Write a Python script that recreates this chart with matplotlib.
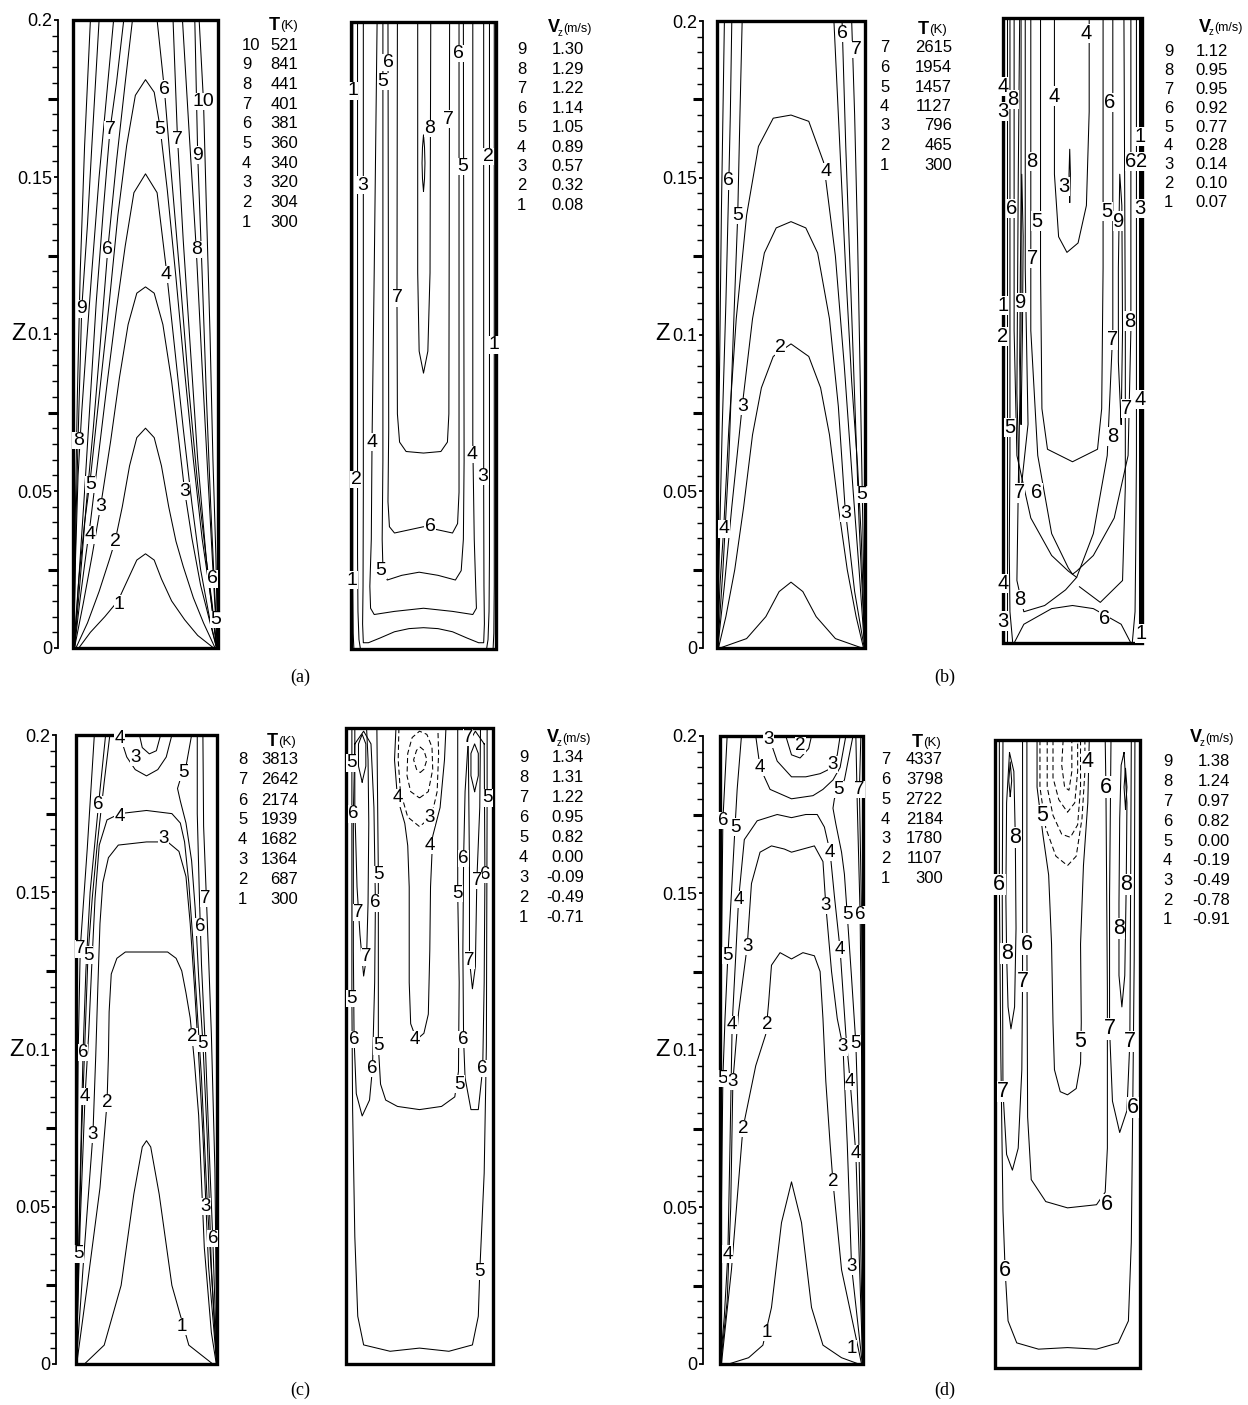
import matplotlib
matplotlib.use('Agg')
import matplotlib.pyplot as plt
from matplotlib.patches import Rectangle
from matplotlib.ticker import FixedLocator
import matplotlib.font_manager as fm

W, H = 1248, 1405
fig = plt.figure(figsize=(W / 100, H / 100), dpi=100)
_names = {f.name for f in fm.fontManager.ttflist}
NARROW = 'Liberation Sans Narrow' if 'Liberation Sans Narrow' in _names else 'Liberation Sans'
SANS = 'Liberation Sans'
SERIF = 'Liberation Serif'

# ---------------- axis ticks ----------------
Z_TICKS = [0, 0.05, 0.1, 0.15, 0.2]
Z_TICKLABELS = ['0', '0.05', '0.1', '0.15', '0.2']
Z_MINOR = [0.005, 0.01, 0.015, 0.02, 0.03, 0.035, 0.04, 0.045, 0.055, 0.06, 0.065, 0.07,
           0.08, 0.085, 0.09, 0.095, 0.105, 0.11, 0.115, 0.12, 0.13, 0.135, 0.14, 0.145,
           0.155, 0.16, 0.165, 0.17, 0.18, 0.185, 0.19, 0.195]
Z_MID = [0.025, 0.075, 0.125, 0.175]

# ---------------- legends ----------------
A_T_IDX = ['10', '9', '8', '7', '6', '5', '4', '3', '2', '1']
A_T_VAL = ['521', '841', '441', '401', '381', '360', '340', '320', '304', '300']
A_V_IDX = ['9', '8', '7', '6', '5', '4', '3', '2', '1']
A_V_VAL = ['1.30', '1.29', '1.22', '1.14', '1.05', '0.89', '0.57', '0.32', '0.08']
B_T_IDX = ['7', '6', '5', '4', '3', '2', '1']
B_T_VAL = ['2615', '1954', '1457', '1127', '796', '465', '300']
B_V_IDX = ['9', '8', '7', '6', '5', '4', '3', '2', '1']
B_V_VAL = ['1.12', '0.95', '0.95', '0.92', '0.77', '0.28', '0.14', '0.10', '0.07']
C_T_IDX = ['8', '7', '6', '5', '4', '3', '2', '1']
C_T_VAL = ['3813', '2642', '2174', '1939', '1682', '1364', '687', '300']
C_V_IDX = ['9', '8', '7', '6', '5', '4', '3', '2', '1']
C_V_VAL = ['1.34', '1.31', '1.22', '0.95', '0.82', '0.00', '-0.09', '-0.49', '-0.71']
D_T_IDX = ['7', '6', '5', '4', '3', '2', '1']
D_T_VAL = ['4337', '3798', '2722', '2184', '1780', '1107', '300']
D_V_IDX = ['9', '8', '7', '6', '5', '4', '3', '2', '1']
D_V_VAL = ['1.38', '1.24', '0.97', '0.82', '0.00', '-0.19', '-0.49', '-0.78', '-0.91']

# ---------------- contour lines (x = r/width, z in m) ----------------
A_T_LINES = [
    (1, [(0.04, 0), (0.12, 0.005), (0.22, 0.010), (0.31, 0.015), (0.38, 0.022), (0.44, 0.028), (0.50, 0.030),
         (0.56, 0.028), (0.61, 0.022), (0.68, 0.015), (0.77, 0.009), (0.86, 0.004), (0.97, 0)]),
    (2, [(0.02, 0), (0.10, 0.008), (0.18, 0.018), (0.25, 0.028), (0.29, 0.034), (0.34, 0.045), (0.39, 0.058),
         (0.44, 0.067), (0.50, 0.070), (0.56, 0.067), (0.61, 0.058), (0.66, 0.045), (0.71, 0.034),
         (0.76, 0.026), (0.83, 0.016), (0.90, 0.008), (0.98, 0)]),
    (3, [(0.01, 0), (0.07, 0.014), (0.13, 0.029), (0.19, 0.045), (0.26, 0.066), (0.32, 0.086), (0.38, 0.103),
         (0.44, 0.113), (0.50, 0.115), (0.56, 0.113), (0.62, 0.103), (0.68, 0.085), (0.73, 0.066),
         (0.77, 0.050), (0.82, 0.035), (0.88, 0.020), (0.99, 0)]),
    (4, [(0.01, 0), (0.05, 0.016), (0.09, 0.030), (0.12, 0.040), (0.18, 0.063), (0.24, 0.086), (0.30, 0.108),
         (0.36, 0.128), (0.42, 0.145), (0.50, 0.151), (0.58, 0.145), (0.64, 0.122), (0.70, 0.096),
         (0.76, 0.070), (0.82, 0.046), (0.88, 0.025), (0.94, 0.010), (0.99, 0)]),
    (5, [(0.005, 0), (0.04, 0.022), (0.08, 0.040), (0.12, 0.054), (0.18, 0.080), (0.25, 0.110), (0.31, 0.138),
         (0.37, 0.160), (0.43, 0.176), (0.50, 0.181), (0.56, 0.177), (0.60, 0.166), (0.65, 0.146),
         (0.71, 0.118), (0.77, 0.088), (0.83, 0.060), (0.89, 0.035), (0.95, 0.016), (0.995, 0)]),
    (6, [(0.41, 0.2), (0.36, 0.18), (0.30, 0.155), (0.24, 0.127), (0.19, 0.098), (0.14, 0.070), (0.09, 0.045),
         (0.05, 0.022), (0.01, 0)]),
    (6, [(0.58, 0.2), (0.63, 0.178), (0.68, 0.150), (0.74, 0.117), (0.80, 0.082), (0.86, 0.052),
         (0.92, 0.028), (0.96, 0.014), (0.99, 0)]),
    (7, [(0.35, 0.2), (0.30, 0.18), (0.255, 0.165), (0.21, 0.14), (0.16, 0.11), (0.12, 0.08), (0.08, 0.05),
         (0.04, 0.022), (0.01, 0)]),
    (7, [(0.69, 0.2), (0.72, 0.163), (0.76, 0.13), (0.81, 0.095), (0.86, 0.06), (0.92, 0.028), (0.99, 0)]),
    (8, [(0.28, 0.2), (0.23, 0.175), (0.18, 0.15), (0.13, 0.12), (0.09, 0.095), (0.06, 0.075), (0.035, 0.055),
         (0.015, 0.025), (0.005, 0)]),
    (8, [(0.755, 0.2), (0.80, 0.165), (0.85, 0.127), (0.89, 0.09), (0.93, 0.055), (0.965, 0.025), (0.995, 0)]),
    (9, [(0.18, 0.2), (0.13, 0.16), (0.10, 0.135), (0.06, 0.108), (0.04, 0.075), (0.02, 0.04), (0.005, 0)]),
    (9, [(0.84, 0.2), (0.86, 0.157), (0.89, 0.12), (0.92, 0.08), (0.95, 0.045), (0.98, 0.015), (0.998, 0)]),
    (10, [(0.12, 0.2), (0.08, 0.16), (0.05, 0.12), (0.03, 0.08), (0.015, 0.04), (0.003, 0)]),
    (10, [(0.87, 0.2), (0.90, 0.174), (0.92, 0.14), (0.945, 0.10), (0.965, 0.06), (0.985, 0.03), (0.998, 0)]),
]
A_T_LABELS = [('6', 0.63, 0.178), ('7', 0.255, 0.165), ('5', 0.60, 0.165), ('7', 0.72, 0.162),
              ('10', 0.90, 0.174), ('9', 0.86, 0.157), ('8', 0.85, 0.127), ('6', 0.24, 0.127),
              ('4', 0.64, 0.119), ('9', 0.06, 0.108), ('8', 0.035, 0.066), ('5', 0.12, 0.052),
              ('3', 0.19, 0.045), ('4', 0.12, 0.036), ('2', 0.29, 0.034), ('3', 0.77, 0.050),
              ('6', 0.96, 0.022), ('5', 0.985, 0.009), ('1', 0.32, 0.014)]

A_V_LINES = [
    (1, [(0.012, 0.2), (0.012, 0.02), (0.015, 0.005), (0.02, 0)]),
    (1, [(0.988, 0.2), (0.988, 0.02), (0.985, 0.005), (0.98, 0)]),
    (2, [(0.045, 0.2), (0.045, 0.03), (0.048, 0.012), (0.055, 0.003), (0.065, 0)]),
    (2, [(0.955, 0.2), (0.955, 0.03), (0.952, 0.012), (0.945, 0.003), (0.935, 0)]),
    (3, [(0.085, 0.2), (0.085, 0.05), (0.083, 0.02), (0.08, 0.008), (0.085, 0.002), (0.12, 0.002), (0.2, 0.0035),
         (0.3, 0.0055), (0.4, 0.0065), (0.5, 0.0068), (0.6, 0.0065), (0.7, 0.0055), (0.8, 0.0035),
         (0.88, 0.002), (0.915, 0.002), (0.92, 0.008), (0.917, 0.02), (0.915, 0.05), (0.915, 0.2)]),
    (4, [(0.18, 0.2), (0.16, 0.12), (0.145, 0.066), (0.14, 0.035), (0.13, 0.02), (0.135, 0.013), (0.16, 0.011),
         (0.3, 0.012), (0.5, 0.013), (0.7, 0.012), (0.84, 0.011), (0.865, 0.013), (0.86, 0.02),
         (0.85, 0.035), (0.84, 0.066), (0.84, 0.2)]),
    (5, [(0.22, 0.2), (0.22, 0.06), (0.215, 0.035), (0.22, 0.026), (0.25, 0.022), (0.35, 0.0235), (0.47, 0.0245),
         (0.6, 0.0235), (0.72, 0.022), (0.76, 0.025), (0.775, 0.035), (0.78, 0.06), (0.775, 0.2)]),
    (6, [(0.255, 0.2), (0.26, 0.07), (0.255, 0.047), (0.265, 0.039), (0.3, 0.037), (0.4, 0.038), (0.5, 0.039),
         (0.6, 0.038), (0.7, 0.037), (0.735, 0.040), (0.745, 0.05), (0.745, 0.2)]),
    (7, [(0.32, 0.2), (0.317, 0.112), (0.32, 0.075), (0.335, 0.066), (0.38, 0.063), (0.5, 0.0625),
         (0.62, 0.063), (0.665, 0.066), (0.675, 0.075), (0.68, 0.2)]),
    (8, [(0.46, 0.2), (0.46, 0.12), (0.47, 0.095), (0.5, 0.088), (0.53, 0.095), (0.545, 0.12), (0.55, 0.2)]),
    (9, [(0.50, 0.146), (0.507, 0.150), (0.51, 0.155), (0.507, 0.160), (0.50, 0.164), (0.493, 0.160),
         (0.49, 0.155), (0.493, 0.150), (0.50, 0.146)]),
]
A_V_LABELS = [('1', 0.01, 0.178), ('6', 0.255, 0.187), ('5', 0.22, 0.181), ('8', 0.545, 0.166),
              ('7', 0.675, 0.169), ('6', 0.74, 0.19), ('3', 0.083, 0.148), ('5', 0.77, 0.154),
              ('2', 0.945, 0.157), ('7', 0.317, 0.112), ('1', 0.985, 0.097), ('4', 0.145, 0.066),
              ('2', 0.035, 0.054), ('4', 0.835, 0.062), ('3', 0.91, 0.055), ('6', 0.545, 0.039),
              ('5', 0.207, 0.025), ('1', 0.007, 0.022)]

B_T_LINES = [
    (1, [(0.02, 0), (0.20, 0.003), (0.33, 0.010), (0.42, 0.018), (0.50, 0.021), (0.58, 0.018), (0.67, 0.010),
         (0.80, 0.003), (0.98, 0)]),
    (2, [(0.01, 0), (0.06, 0.010), (0.12, 0.025), (0.18, 0.045), (0.24, 0.068), (0.30, 0.083), (0.38, 0.093),
         (0.50, 0.097), (0.62, 0.093), (0.70, 0.083), (0.76, 0.068), (0.82, 0.045), (0.88, 0.025),
         (0.94, 0.010), (0.99, 0)]),
    (3, [(0.005, 0), (0.05, 0.02), (0.10, 0.045), (0.17, 0.077), (0.24, 0.105), (0.32, 0.126), (0.40, 0.134),
         (0.50, 0.136), (0.60, 0.134), (0.68, 0.126), (0.76, 0.105), (0.82, 0.077), (0.865, 0.045),
         (0.93, 0.018), (0.995, 0)]),
    (4, [(0.003, 0), (0.02, 0.02), (0.045, 0.038), (0.08, 0.07), (0.13, 0.105), (0.20, 0.138), (0.28, 0.160),
         (0.38, 0.169), (0.50, 0.170), (0.62, 0.168), (0.72, 0.155), (0.80, 0.125), (0.86, 0.09),
         (0.92, 0.05), (0.96, 0.025), (0.997, 0)]),
    (5, [(0.17, 0.2), (0.155, 0.17), (0.14, 0.138), (0.11, 0.10), (0.08, 0.06), (0.04, 0.025), (0.005, 0)]),
    (5, [(0.79, 0.2), (0.83, 0.16), (0.87, 0.12), (0.91, 0.085), (0.95, 0.058), (0.975, 0.035), (0.998, 0)]),
    (6, [(0.10, 0.2), (0.09, 0.17), (0.08, 0.149), (0.06, 0.11), (0.035, 0.07), (0.015, 0.03), (0.002, 0)]),
    (6, [(0.845, 0.2), (0.87, 0.16), (0.90, 0.12), (0.93, 0.08), (0.96, 0.04), (0.999, 0)]),
    (7, [(0.91, 0.2), (0.93, 0.17), (0.95, 0.13), (0.97, 0.08), (0.985, 0.04), (0.999, 0)]),
    (7, [(0.05, 0.2), (0.03, 0.14), (0.015, 0.08), (0.002, 0)]),
]
B_T_LABELS = [('6', 0.85, 0.196), ('7', 0.945, 0.191), ('4', 0.735, 0.152), ('6', 0.08, 0.149),
              ('5', 0.14, 0.138), ('2', 0.43, 0.096), ('3', 0.175, 0.077), ('5', 0.98, 0.049),
              ('3', 0.87, 0.043), ('4', 0.047, 0.038)]

B_V_LINES = [
    (1, [(0.01, 0.2), (0.01, 0.0)]),
    (1, [(0.99, 0.2), (0.99, 0.0)]),
    (2, [(0.03, 0.2), (0.03, 0.0)]),
    (2, [(0.975, 0.2), (0.975, 0.0)]),
    (3, [(0.005, 0.2), (0.005, 0.0)]),
    (3, [(0.985, 0.2), (0.985, 0.0)]),
    (3, [(0.48, 0.141), (0.485, 0.15), (0.48, 0.158), (0.475, 0.15), (0.48, 0.141)]),
    (4, [(0.37, 0.2), (0.37, 0.15), (0.40, 0.13), (0.46, 0.125), (0.54, 0.128), (0.60, 0.14), (0.62, 0.17),
         (0.62, 0.2)]),
    (4, [(0.05, 0.2), (0.05, 0.06), (0.045, 0.03), (0.05, 0.01), (0.07, 0)]),
    (4, [(0.96, 0.2), (0.96, 0.06), (0.955, 0.03), (0.95, 0.01), (0.93, 0)]),
    (5, [(0.27, 0.2), (0.27, 0.12), (0.28, 0.075), (0.32, 0.062), (0.5, 0.058), (0.68, 0.062), (0.71, 0.075),
         (0.72, 0.12), (0.72, 0.2)]),
    (6, [(0.08, 0.2), (0.08, 0.10), (0.10, 0.06), (0.20, 0.04), (0.35, 0.028), (0.47, 0.023), (0.5, 0.022),
         (0.53, 0.023), (0.65, 0.028), (0.80, 0.04), (0.90, 0.06), (0.92, 0.10), (0.92, 0.2)]),
    (6, [(0.08, 0.0), (0.15, 0.006), (0.35, 0.011), (0.5, 0.012), (0.65, 0.011), (0.85, 0.006), (0.92, 0.0)]),
    (8, [(0.20, 0.2), (0.20, 0.10), (0.25, 0.06), (0.35, 0.035), (0.47, 0.024), (0.5, 0.022), (0.53, 0.021),
         (0.45, 0.017), (0.3, 0.012), (0.15, 0.01), (0.10, 0.02), (0.11, 0.05), (0.13, 0.1), (0.13, 0.2)]),
    (7, [(0.16, 0.2), (0.16, 0.12), (0.18, 0.07), (0.12, 0.045), (0.10, 0.08), (0.11, 0.15), (0.12, 0.2)]),
    (9, [(0.13, 0.07), (0.14, 0.10), (0.145, 0.13), (0.135, 0.15), (0.125, 0.12), (0.12, 0.09), (0.13, 0.07)]),
    (9, [(0.85, 0.07), (0.86, 0.10), (0.855, 0.14), (0.84, 0.15), (0.83, 0.12), (0.83, 0.09), (0.85, 0.07)]),
    (8, [(0.79, 0.2), (0.79, 0.10), (0.75, 0.06), (0.65, 0.035), (0.53, 0.021)]),
    (8, [(0.87, 0.2), (0.88, 0.10), (0.88, 0.05), (0.86, 0.02), (0.70, 0.013), (0.55, 0.018)]),
]
B_V_LABELS = [('4', 0.60, 0.195), ('4', 0.0, 0.178), ('8', 0.07, 0.174), ('4', 0.37, 0.175),
              ('6', 0.77, 0.173), ('3', 0.0, 0.170), ('1', 0.985, 0.162), ('8', 0.21, 0.154),
              ('6', 0.92, 0.154), ('2', 0.995, 0.154), ('3', 0.44, 0.146), ('6', 0.06, 0.139),
              ('5', 0.245, 0.135), ('5', 0.75, 0.138), ('9', 0.83, 0.135), ('3', 0.985, 0.139),
              ('7', 0.21, 0.123), ('9', 0.13, 0.109), ('1', 0.0, 0.108), ('2', 0.0, 0.098),
              ('8', 0.91, 0.103), ('7', 0.785, 0.097), ('4', 0.985, 0.078), ('7', 0.89, 0.075),
              ('5', 0.05, 0.069), ('8', 0.79, 0.066), ('7', 0.12, 0.048), ('6', 0.245, 0.048),
              ('4', 0.0, 0.019), ('8', 0.12, 0.014), ('3', 0.0, 0.007), ('6', 0.73, 0.008),
              ('1', 0.99, 0.003)]

C_T_LINES = [
    (1, [(0.06, 0), (0.2, 0.006), (0.32, 0.025), (0.41, 0.054), (0.47, 0.069), (0.5, 0.071), (0.53, 0.069),
         (0.59, 0.054), (0.68, 0.025), (0.80, 0.006), (0.97, 0)]),
    (2, [(0.005, 0), (0.08, 0.025), (0.17, 0.056), (0.22, 0.083), (0.23, 0.098), (0.235, 0.112), (0.25, 0.124),
         (0.29, 0.129), (0.35, 0.131), (0.5, 0.131), (0.65, 0.131), (0.71, 0.129), (0.75, 0.125),
         (0.78, 0.118), (0.81, 0.110), (0.84, 0.096), (0.87, 0.079), (0.91, 0.037), (0.96, 0.010), (0.995, 0)]),
    (3, [(0.002, 0), (0.06, 0.037), (0.12, 0.073), (0.14, 0.098), (0.155, 0.120), (0.17, 0.140), (0.19, 0.153),
         (0.23, 0.161), (0.30, 0.165), (0.5, 0.166), (0.65, 0.166), (0.73, 0.163), (0.78, 0.155),
         (0.81, 0.140), (0.84, 0.120), (0.87, 0.098), (0.90, 0.073), (0.94, 0.031), (0.998, 0)]),
    (4, [(0.001, 0), (0.03, 0.045), (0.064, 0.085), (0.09, 0.105), (0.11, 0.125), (0.135, 0.148),
         (0.165, 0.165), (0.22, 0.173), (0.31, 0.175), (0.5, 0.176), (0.68, 0.175), (0.74, 0.172),
         (0.77, 0.166), (0.80, 0.153), (0.83, 0.134), (0.86, 0.112), (0.89, 0.091), (0.93, 0.052), (0.999, 0)]),
    (4, [(0.31, 0.2), (0.36, 0.193), (0.42, 0.189), (0.5, 0.187), (0.58, 0.189), (0.64, 0.193), (0.68, 0.2)]),
    (3, [(0.45, 0.2), (0.47, 0.196), (0.52, 0.194), (0.57, 0.195), (0.60, 0.2)]),
    (5, [(0.24, 0.2), (0.20, 0.185), (0.15, 0.165), (0.115, 0.148), (0.085, 0.130), (0.065, 0.105),
         (0.04, 0.073), (0.02, 0.035), (0.003, 0)]),
    (5, [(0.82, 0.2), (0.78, 0.190), (0.74, 0.186), (0.72, 0.183), (0.74, 0.179), (0.78, 0.172), (0.82, 0.160),
         (0.845, 0.145), (0.87, 0.123), (0.90, 0.102), (0.93, 0.073), (0.96, 0.031), (0.998, 0)]),
    (6, [(0.21, 0.2), (0.16, 0.178), (0.10, 0.150), (0.07, 0.125), (0.05, 0.099), (0.03, 0.06), (0.01, 0.02),
         (0.001, 0)]),
    (6, [(0.86, 0.2), (0.86, 0.175), (0.875, 0.149), (0.89, 0.127), (0.92, 0.098), (0.95, 0.062),
         (0.97, 0.040), (0.999, 0)]),
    (7, [(0.13, 0.2), (0.08, 0.164), (0.03, 0.132), (0.015, 0.098), (0.005, 0.042), (0.001, 0)]),
    (7, [(0.90, 0.2), (0.905, 0.171), (0.93, 0.142), (0.96, 0.105), (0.985, 0.062), (1.0, 0)]),
]
C_T_LABELS = [('4', 0.31, 0.199), ('3', 0.42, 0.193), ('6', 0.16, 0.178), ('5', 0.76, 0.188),
              ('4', 0.31, 0.174), ('3', 0.62, 0.167), ('7', 0.92, 0.148), ('6', 0.88, 0.139),
              ('7', 0.03, 0.132), ('5', 0.085, 0.130), ('6', 0.05, 0.099), ('5', 0.90, 0.102),
              ('4', 0.064, 0.085), ('2', 0.22, 0.083), ('3', 0.12, 0.073), ('3', 0.92, 0.050),
              ('6', 0.97, 0.040), ('5', 0.02, 0.035), ('2', 0.825, 0.104), ('1', 0.75, 0.012)]

C_V_LINES = [
    (1, [(0.505, 0.186), (0.53, 0.187), (0.55, 0.190), (0.53, 0.193), (0.505, 0.194), (0.48, 0.193),
         (0.46, 0.190), (0.48, 0.187), (0.505, 0.186)]),
    (2, [(0.50, 0.178), (0.56, 0.180), (0.59, 0.187), (0.585, 0.194), (0.55, 0.198), (0.50, 0.199),
         (0.45, 0.197), (0.42, 0.192), (0.415, 0.185), (0.44, 0.180), (0.50, 0.178)]),
    (3, [(0.36, 0.2), (0.355, 0.19), (0.37, 0.18), (0.42, 0.172), (0.5, 0.169), (0.58, 0.172), (0.62, 0.18),
         (0.63, 0.192), (0.625, 0.2)]),
    (4, [(0.34, 0.2), (0.33, 0.19), (0.35, 0.178), (0.40, 0.170), (0.42, 0.163), (0.43, 0.15), (0.43, 0.12),
         (0.44, 0.107), (0.48, 0.102), (0.53, 0.104), (0.56, 0.11), (0.57, 0.13), (0.575, 0.15),
         (0.59, 0.166), (0.64, 0.175), (0.67, 0.19), (0.68, 0.2)]),
    (5, [(0.21, 0.2), (0.22, 0.154), (0.22, 0.10), (0.235, 0.088), (0.27, 0.083), (0.35, 0.081), (0.5, 0.080),
         (0.65, 0.081), (0.74, 0.084), (0.765, 0.092), (0.77, 0.12), (0.76, 0.148), (0.76, 0.2)]),
    (5, [(0.04, 0.2), (0.04, 0.115), (0.045, 0.08), (0.06, 0.04), (0.08, 0.015), (0.12, 0.006), (0.3, 0.004),
         (0.5, 0.005), (0.7, 0.004), (0.86, 0.006), (0.90, 0.015), (0.91, 0.029), (0.94, 0.06), (0.955, 0.10),
         (0.96, 0.178), (0.96, 0.2)]),
    (6, [(0.06, 0.195), (0.05, 0.173), (0.05, 0.13), (0.055, 0.102), (0.07, 0.085), (0.11, 0.078),
         (0.16, 0.083), (0.18, 0.093), (0.195, 0.12), (0.20, 0.145), (0.19, 0.175), (0.17, 0.195),
         (0.12, 0.199), (0.06, 0.195)]),
    (6, [(0.94, 0.195), (0.945, 0.154), (0.94, 0.12), (0.93, 0.093), (0.90, 0.08), (0.85, 0.08), (0.81, 0.09),
         (0.80, 0.102), (0.795, 0.13), (0.80, 0.159), (0.81, 0.18), (0.83, 0.195), (0.88, 0.199),
         (0.94, 0.195)]),
    (7, [(0.06, 0.2), (0.06, 0.175), (0.075, 0.15), (0.095, 0.135), (0.12, 0.122), (0.14, 0.128), (0.15, 0.145),
         (0.155, 0.17), (0.15, 0.19), (0.14, 0.2)]),
    (7, [(0.83, 0.2), (0.835, 0.18), (0.84, 0.155), (0.84, 0.127), (0.86, 0.118), (0.88, 0.125), (0.89, 0.152),
         (0.91, 0.175), (0.915, 0.2)]),
    (8, [(0.11, 0.183), (0.135, 0.188), (0.135, 0.195), (0.11, 0.198), (0.085, 0.195), (0.085, 0.188),
         (0.11, 0.183)]),
    (8, [(0.875, 0.180), (0.90, 0.185), (0.90, 0.192), (0.875, 0.195), (0.85, 0.192), (0.85, 0.185),
         (0.875, 0.180)]),
]
C_V_LABELS = [('5', 0.04, 0.189), ('4', 0.35, 0.178), ('6', 0.05, 0.173), ('3', 0.57, 0.172),
              ('4', 0.57, 0.163), ('7', 0.83, 0.197), ('5', 0.96, 0.178), ('6', 0.80, 0.159),
              ('5', 0.22, 0.154), ('6', 0.945, 0.154), ('7', 0.89, 0.152), ('5', 0.76, 0.148),
              ('7', 0.085, 0.142), ('6', 0.20, 0.145), ('7', 0.14, 0.128), ('7', 0.84, 0.127),
              ('5', 0.04, 0.115), ('4', 0.47, 0.102), ('6', 0.80, 0.102), ('6', 0.93, 0.093),
              ('5', 0.77, 0.088), ('6', 0.18, 0.093), ('5', 0.91, 0.029), ('5', 0.22, 0.100),
              ('6', 0.055, 0.102)]

D_T_LINES = [
    (1, [(0.06, 0), (0.2, 0.002), (0.30, 0.006), (0.36, 0.018), (0.43, 0.045), (0.5, 0.058), (0.57, 0.045),
         (0.64, 0.018), (0.72, 0.006), (0.85, 0.002), (0.97, 0)]),
    (2, [(0.01, 0), (0.08, 0.03), (0.16, 0.075), (0.25, 0.095), (0.32, 0.105), (0.34, 0.115), (0.36, 0.127),
         (0.42, 0.131), (0.5, 0.129), (0.58, 0.131), (0.66, 0.130), (0.70, 0.125), (0.72, 0.11), (0.74, 0.09),
         (0.77, 0.07), (0.79, 0.058), (0.85, 0.03), (0.99, 0)]),
    (3, [(0.005, 0), (0.05, 0.02), (0.075, 0.05), (0.09, 0.09), (0.13, 0.112), (0.19, 0.133), (0.22, 0.153),
         (0.28, 0.163), (0.36, 0.165), (0.45, 0.164), (0.5, 0.163), (0.58, 0.164), (0.66, 0.165),
         (0.72, 0.160), (0.74, 0.146), (0.78, 0.125), (0.82, 0.11), (0.86, 0.101), (0.89, 0.07),
         (0.92, 0.031), (0.995, 0)]),
    (4, [(0.002, 0), (0.03, 0.015), (0.055, 0.035), (0.07, 0.07), (0.085, 0.108), (0.11, 0.13), (0.13, 0.148),
         (0.17, 0.167), (0.26, 0.173), (0.40, 0.175), (0.5, 0.174), (0.6, 0.175), (0.68, 0.175),
         (0.73, 0.171), (0.77, 0.163), (0.80, 0.149), (0.84, 0.132), (0.88, 0.105), (0.91, 0.090),
         (0.95, 0.067), (0.998, 0)]),
    (2, [(0.46, 0.2), (0.5, 0.194), (0.56, 0.193), (0.62, 0.196), (0.64, 0.2)]),
    (3, [(0.34, 0.2), (0.40, 0.192), (0.5, 0.187), (0.6, 0.187), (0.7, 0.188), (0.79, 0.190), (0.82, 0.194),
         (0.84, 0.2)]),
    (4, [(0.25, 0.2), (0.28, 0.190), (0.35, 0.183), (0.5, 0.180), (0.65, 0.181), (0.72, 0.183), (0.79, 0.186),
         (0.84, 0.190), (0.88, 0.2)]),
    (5, [(0.15, 0.2), (0.12, 0.183), (0.105, 0.171), (0.08, 0.15), (0.055, 0.130), (0.035, 0.11),
         (0.02, 0.091), (0.01, 0.05), (0.001, 0)]),
    (5, [(0.93, 0.2), (0.87, 0.186), (0.83, 0.183), (0.80, 0.180), (0.79, 0.177), (0.81, 0.172), (0.85, 0.163),
         (0.87, 0.156), (0.89, 0.143), (0.92, 0.123), (0.95, 0.102), (0.97, 0.073), (0.999, 0)]),
    (6, [(0.05, 0.2), (0.02, 0.173), (0.01, 0.13), (0.004, 0.08), (0, 0)]),
    (6, [(0.95, 0.2), (0.96, 0.178), (0.98, 0.143), (0.99, 0.098), (1.0, 0)]),
    (7, [(0.985, 0.2), (0.975, 0.183), (0.99, 0.142), (0.997, 0.091), (1.0, 0.05)]),
]
D_T_LABELS = [('3', 0.34, 0.199), ('2', 0.56, 0.197), ('3', 0.79, 0.191), ('4', 0.28, 0.190),
              ('6', 0.02, 0.173), ('5', 0.105, 0.171), ('4', 0.77, 0.163), ('5', 0.83, 0.183),
              ('7', 0.975, 0.183), ('4', 0.13, 0.148), ('3', 0.74, 0.146), ('5', 0.89, 0.143),
              ('6', 0.98, 0.143), ('3', 0.19, 0.133), ('5', 0.055, 0.130), ('4', 0.84, 0.132),
              ('4', 0.085, 0.108), ('2', 0.33, 0.108), ('3', 0.86, 0.101), ('5', 0.95, 0.102),
              ('5', 0.02, 0.091), ('3', 0.09, 0.090), ('4', 0.91, 0.090), ('2', 0.16, 0.075),
              ('2', 0.79, 0.058), ('4', 0.95, 0.067), ('4', 0.055, 0.035), ('3', 0.92, 0.031),
              ('1', 0.33, 0.010), ('1', 0.92, 0.005)]

D_V_LINES = [
    (1, [(0.47, 0.2), (0.46, 0.192), (0.48, 0.185), (0.51, 0.184), (0.53, 0.19), (0.53, 0.2)]),
    (2, [(0.40, 0.2), (0.40, 0.188), (0.44, 0.181), (0.50, 0.177), (0.55, 0.180), (0.57, 0.19), (0.57, 0.2)]),
    (3, [(0.36, 0.2), (0.36, 0.185), (0.40, 0.176), (0.46, 0.170), (0.52, 0.169), (0.57, 0.173), (0.59, 0.185),
         (0.59, 0.2)]),
    (4, [(0.31, 0.2), (0.31, 0.185), (0.35, 0.172), (0.42, 0.163), (0.50, 0.160), (0.56, 0.163), (0.60, 0.175),
         (0.62, 0.19), (0.62, 0.2)]),
    (5, [(0.29, 0.2), (0.29, 0.185), (0.33, 0.17), (0.37, 0.157), (0.39, 0.135), (0.40, 0.11), (0.41, 0.095),
         (0.45, 0.088), (0.50, 0.087), (0.56, 0.089), (0.59, 0.097), (0.595, 0.11), (0.59, 0.135),
         (0.61, 0.16), (0.64, 0.18), (0.65, 0.2)]),
    (6, [(0.22, 0.2), (0.22, 0.135), (0.225, 0.08), (0.25, 0.06), (0.35, 0.053), (0.5, 0.051), (0.70, 0.052),
         (0.76, 0.056), (0.775, 0.07), (0.775, 0.12), (0.765, 0.185), (0.76, 0.2)]),
    (6, [(0.03, 0.2), (0.03, 0.154), (0.04, 0.10), (0.055, 0.05), (0.07, 0.031), (0.09, 0.015), (0.15, 0.008),
         (0.3, 0.006), (0.5, 0.0065), (0.7, 0.006), (0.85, 0.008), (0.92, 0.015), (0.94, 0.04), (0.95, 0.083),
         (0.96, 0.13), (0.965, 0.2)]),
    (7, [(0.055, 0.2), (0.05, 0.15), (0.055, 0.088), (0.08, 0.068), (0.12, 0.063), (0.16, 0.07), (0.185, 0.095),
         (0.19, 0.123), (0.19, 0.2)]),
    (7, [(0.80, 0.2), (0.79, 0.15), (0.79, 0.108), (0.81, 0.085), (0.86, 0.075), (0.91, 0.082), (0.93, 0.104),
         (0.935, 0.15), (0.94, 0.2)]),
    (8, [(0.10, 0.196), (0.08, 0.18), (0.075, 0.15), (0.08, 0.132), (0.09, 0.115), (0.11, 0.108), (0.135, 0.115),
         (0.145, 0.14), (0.14, 0.169), (0.13, 0.19), (0.10, 0.196)]),
    (8, [(0.89, 0.196), (0.91, 0.18), (0.905, 0.154), (0.895, 0.125), (0.875, 0.115), (0.855, 0.125),
         (0.855, 0.148), (0.86, 0.175), (0.87, 0.192), (0.89, 0.196)]),
    (9, [(0.105, 0.182), (0.115, 0.187), (0.105, 0.193), (0.095, 0.187), (0.105, 0.182)]),
    (9, [(0.90, 0.178), (0.91, 0.185), (0.90, 0.191), (0.89, 0.185), (0.90, 0.178)]),
]
D_V_LABELS = [('4', 0.635, 0.193), ('5', 0.325, 0.176), ('6', 0.765, 0.185), ('8', 0.14, 0.169),
              ('6', 0.03, 0.154), ('8', 0.905, 0.154), ('8', 0.855, 0.140), ('6', 0.22, 0.135),
              ('8', 0.08, 0.132), ('7', 0.19, 0.123), ('5', 0.59, 0.104), ('7', 0.79, 0.108),
              ('7', 0.93, 0.104), ('7', 0.055, 0.088), ('6', 0.95, 0.083), ('6', 0.77, 0.052),
              ('6', 0.07, 0.031)]

NEG = {'c': (1, 2, 3), 'd': (1, 2, 3, 4)}


def px_axes(l, t, r, b):
    return fig.add_axes([l / W, 1 - b / H, (r - l) / W, (b - t) / H])


def field_axes(box, zaxis_px=None):
    l, t, r, b = box
    ax = px_axes(l, t, r, b)
    ax.set_xlim(0, 1)
    ax.set_ylim(0, 0.2)
    ax.patch.set_visible(False)
    ax.set_xticks([])
    for s in ('top', 'right', 'bottom', 'left'):
        ax.spines[s].set_visible(False)
    ax.add_patch(Rectangle((0, 0), 1, 1, transform=ax.transAxes, fill=False, lw=2.4,
                           ec='black', clip_on=False, zorder=5, joinstyle='miter'))
    if zaxis_px is None:
        ax.set_yticks([])
    else:
        off = (l - zaxis_px) * 0.72
        ax.spines['left'].set_visible(True)
        ax.spines['left'].set_position(('outward', off))
        ax.spines['left'].set_linewidth(1.3)
        ax.set_yticks(Z_TICKS)
        ax.set_yticklabels(Z_TICKLABELS, family=NARROW, fontsize=13)
        ax.yaxis.set_minor_locator(FixedLocator(Z_MINOR))
        ax.tick_params(axis='y', which='major', length=3, width=1.3, pad=1)
        ax.tick_params(axis='y', which='minor', length=4, width=1.0)
        ax2 = px_axes(l, t, r, b)
        ax2.set_xlim(0, 1)
        ax2.set_ylim(0, 0.2)
        ax2.patch.set_visible(False)
        ax2.set_xticks([])
        for s in ('top', 'right', 'bottom', 'left'):
            ax2.spines[s].set_visible(False)
        ax2.spines['left'].set_position(('outward', off))
        ax2.set_yticks(Z_MID)
        ax2.set_yticklabels([])
        ax2.tick_params(axis='y', which='major', length=7, width=2.2)
        ax.set_ylabel('Z', family=NARROW, fontsize=17, rotation=0, va='center', ha='center')
        ax.yaxis.set_label_coords((zaxis_px - 40 - l) / (r - l), 0.5)
    return ax


def draw_field(ax, lines, labels, neg=(), fs=13.5):
    for lev, pts in lines:
        xs = [p[0] for p in pts]
        zs = [p[1] for p in pts]
        ls = (0, (5, 3)) if lev in neg else '-'
        ax.plot(xs, zs, color='black', lw=0.75, ls=ls, solid_joinstyle='round', zorder=2, clip_on=True)
    for txt, x, z in labels:
        ax.text(x, z, txt, ha='center', va='center', fontsize=fs, family=SANS, zorder=7,
                bbox=dict(fc='white', ec='none', pad=0.2))


def ftext(x, y, s, **kw):
    fig.text(x / W, 1 - y / H, s, **kw)


def legend(x_title, y_title, x_idx, x_val, y0, dy, idx, vals, kind):
    if kind == 'T':
        ftext(x_title, y_title, 'T', fontsize=13, weight='bold', family=SANS, va='center', ha='left')
        ftext(x_title + 11, y_title + 1, '(K)', fontsize=9.5, family=SANS, va='center', ha='left')
    else:
        ftext(x_title, y_title, 'V', fontsize=13, weight='bold', family=SANS, va='center', ha='left')
        ftext(x_title + 10, y_title + 5, 'z', fontsize=7, family=SANS, va='center', ha='left')
        ftext(x_title + 15, y_title + 1, '(m/s)', fontsize=9, family=SANS, va='center', ha='left')
    for i, (a, v) in enumerate(zip(idx, vals)):
        y = y0 + i * dy
        ftext(x_idx, y, a, fontsize=12, family=SANS, va='center', ha='left')
        ftext(x_val, y, v, fontsize=12, family=SANS, va='center', ha='right')


# ---- panel (a)
ax = field_axes((73, 20, 218, 648), zaxis_px=58)
draw_field(ax, A_T_LINES, A_T_LABELS, fs=14)
ax = field_axes((351, 22, 496, 649))
draw_field(ax, A_V_LINES, A_V_LABELS, fs=14)
legend(269, 25, 242, 298, 45, 19.7, A_T_IDX, A_T_VAL, 'T')
legend(548, 28, 517, 584, 50, 19.4, A_V_IDX, A_V_VAL, 'V')
ftext(300, 677, '(a)', fontsize=13, family=SERIF, ha='center', va='center')

# ---- panel (b)
ax = field_axes((717, 21, 865, 648), zaxis_px=703)
draw_field(ax, B_T_LINES, B_T_LABELS, fs=14)
ax = field_axes((1003, 18, 1142, 643))
draw_field(ax, B_V_LINES, B_V_LABELS, fs=14.5)
legend(918, 29, 880, 952, 48, 19.5, B_T_IDX, B_T_VAL, 'T')
legend(1199, 27, 1164, 1228, 52, 18.8, B_V_IDX, B_V_VAL, 'V')
ftext(945, 677, '(b)', fontsize=13, family=SERIF, ha='center', va='center')

# ---- panel (c)
ax = field_axes((76, 735, 217, 1364), zaxis_px=56)
draw_field(ax, C_T_LINES, C_T_LABELS, fs=13.5)
ax = field_axes((346, 728, 493, 1364))
draw_field(ax, C_V_LINES, C_V_LABELS, neg=NEG['c'], fs=13.5)
legend(267, 741, 238, 298, 760, 20, C_T_IDX, C_T_VAL, 'T')
legend(547, 738, 519, 584, 758, 19.9, C_V_IDX, C_V_VAL, 'V')
ftext(300, 1390, '(c)', fontsize=13, family=SERIF, ha='center', va='center')

# ---- panel (d)
ax = field_axes((720, 736, 863, 1364), zaxis_px=703)
draw_field(ax, D_T_LINES, D_T_LABELS, fs=13.5)
ax = field_axes((995, 740, 1140, 1368))
draw_field(ax, D_V_LINES, D_V_LABELS, neg=NEG['d'], fs=15.5)
legend(912, 742, 881, 943, 760, 19.7, D_T_IDX, D_T_VAL, 'T')
legend(1190, 738, 1163, 1230, 762, 19.75, D_V_IDX, D_V_VAL, 'V')
ftext(945, 1390, '(d)', fontsize=13, family=SERIF, ha='center', va='center')

fig.savefig('out.png', dpi=100, facecolor='white')
